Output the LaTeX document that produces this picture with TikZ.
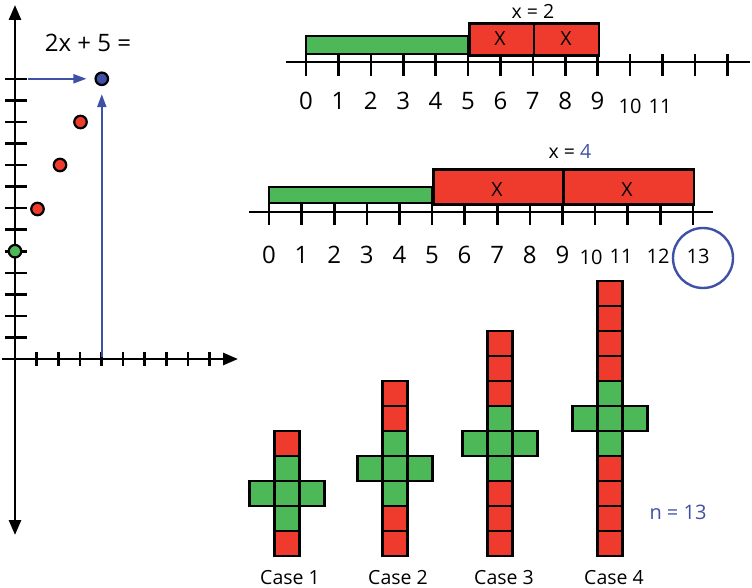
\documentclass[tikz,border=0pt]{standalone}
\usepackage{fontspec}
\setmainfont{Open Sans}
\usetikzlibrary{arrows.meta}
\definecolor{cred}{HTML}{EE3B2E}
\definecolor{cgreen}{HTML}{4DB857}
\definecolor{cblue}{HTML}{3F51A5}
\begin{document}
\begin{tikzpicture}[x=1pt,y=-1pt,
  axis/.style={line width=2.8pt,black},
  tickmark/.style={line width=2.6pt,black},
  nline/.style={line width=2.6pt,black},
  sq/.style={draw=black,line width=2.6pt,line join=miter},
  bar/.style={draw=black,line width=2.6pt},
  dot/.style={circle,draw=black,line width=2.2pt,minimum size=12.5pt,inner sep=0pt},
  barrow/.style={cblue,line width=2pt,-{Triangle[length=13pt,width=9pt]}},
  big/.style={font=\fontsize{24}{24}\selectfont,inner sep=0pt},
  mid/.style={font=\fontsize{20}{20}\selectfont,inner sep=0pt},
  small/.style={font=\fontsize{19.5}{19.5}\selectfont,inner sep=0pt},
  caselab/.style={font=\fontsize{19.5}{19.5}\selectfont,inner sep=0pt,anchor=base}]
\useasboundingbox (0,0) rectangle (752,588);

% ---------- coordinate graph ----------
\coordinate (ytop) at (15,5);
\coordinate (ybot) at (15,535);
\coordinate (xleft) at (2,359);
\coordinate (xright) at (238,359);
\draw[axis,{Triangle[length=15pt,width=12pt]}-{Triangle[length=15pt,width=12pt]}] (ybot) -- (ytop);
\draw[axis,-{Triangle[length=15pt,width=12pt]}] (xleft) -- (xright);
\foreach \k in {1,...,13}{
  \draw[tickmark] (5,{359-21.55*\k}) -- (27,{359-21.55*\k});
}
\foreach \k in {1,...,9}{
  \draw[tickmark] ({15+21.6*\k},352) -- ({15+21.6*\k},366);
}
\node[dot,fill=cgreen] (p0) at (15,251.2) {};
\node[dot,fill=cred] (p1) at (37.5,209) {};
\node[dot,fill=cred] (p2) at (60,165) {};
\node[dot,fill=cred] (p3) at (80.5,122) {};
\node[dot,fill=cblue] (p4) at (101.8,78.8) {};
\coordinate (ystart) at (28,78.8);
\coordinate (xstart) at (101.8,357);
\draw[barrow,shorten >=8pt] (ystart) -- (p4.west);
\draw[barrow,shorten >=8pt] (xstart) -- (p4.south);
\node[big] (eq) at (88,43) {2x + 5 =};

% ---------- top number line ----------
\coordinate (t0) at (286,62);
\coordinate (t1) at (750,62);
\draw[nline] (t0) -- (t1);
\foreach \k in {0,...,13}{
  \draw[tickmark] ({306+32.4*\k},54) -- ({306+32.4*\k},76);
}
\filldraw[bar,fill=cgreen] (306,36) rectangle (468,54);
\node[draw=black,line width=2.6pt,fill=cred,minimum width=64.8pt,minimum height=32pt,inner sep=0pt,anchor=north west] (tx1) at (468,22) {};
\node[draw=black,line width=2.6pt,fill=cred,minimum width=64.8pt,minimum height=32pt,inner sep=0pt,anchor=north west] (tx2) at (532.8,22) {};
\node[small] (tX1) at (500,39) {X};
\node[small] (tX2) at (566,39) {X};
\node[small] (teq) at (533,11) {x = 2};
\foreach \k in {0,...,9}{
  \node[big] (tl\k) at ({306+32.4*\k},101) {\k};
}
\node[mid] (tl10) at (630,106) {10};
\node[mid] (tl11) at (660,106) {11};

% ---------- middle number line ----------
\coordinate (m0) at (249,212);
\coordinate (m1) at (713,212);
\draw[nline] (m0) -- (m1);
\foreach \k in {0,...,13}{
  \draw[tickmark] ({269+32.6*\k},203) -- ({269+32.6*\k},225);
}
\filldraw[bar,fill=cgreen] (269,187) rectangle (432,203);
\node[draw=black,line width=2.6pt,fill=cred,minimum width=130.4pt,minimum height=35pt,inner sep=0pt,anchor=north west] (mx1) at (432,168) {};
\node[draw=black,line width=2.6pt,fill=cred,minimum width=130.4pt,minimum height=35pt,inner sep=0pt,anchor=north west] (mx2) at (562.4,168) {};
\node[small] (mX1) at (497,190) {X};
\node[small] (mX2) at (627,190) {X};
\node[small] (meq) at (570,152) {x = \textcolor{cblue}{4}};
\foreach \k in {0,...,9}{
  \node[big] (ml\k) at ({269+32.6*\k},255) {\k};
}
\node[mid] (ml10) at (591,257) {10};
\node[mid] (ml11) at (621,256) {11};
\node[mid] (ml12) at (658,256) {12};
\node[mid] (ml13) at (698,256) {13};
\node[circle,draw=cblue,line width=2.4pt,minimum size=60pt,inner sep=0pt] (ring) at (703,258) {};

% ---------- cases ----------
\foreach \k/\cx in {1/287,2/395,3/500,4/610}{
  \pgfmathtruncatemacro\n{2*\k+2}
  \foreach \i in {0,...,\n}{
    \pgfmathsetmacro\yt{556-25*(\i+1)}
    \pgfmathtruncatemacro\isred{(\i<\k)||(\i>\k+2)}
    \ifnum\isred=1 \def\col{cred}\else\def\col{cgreen}\fi
    \filldraw[sq,fill=\col] ({\cx-12.5},\yt) rectangle ++(25,25);
  }
  \pgfmathsetmacro\yc{556-25*(\k+2)}
  \filldraw[sq,fill=cgreen] ({\cx-37.5},\yc) rectangle ++(25,25);
  \filldraw[sq,fill=cgreen] ({\cx+12.5},\yc) rectangle ++(25,25);
}
\node[caselab] (case1) at (290,584) {Case 1};
\node[caselab] (case2) at (398,584) {Case 2};
\node[caselab] (case3) at (504,584) {Case 3};
\node[caselab] (case4) at (614,584) {Case 4};
\node[mid,text=cblue] (nval) at (678,512) {n = 13};
\end{tikzpicture}
\end{document}
